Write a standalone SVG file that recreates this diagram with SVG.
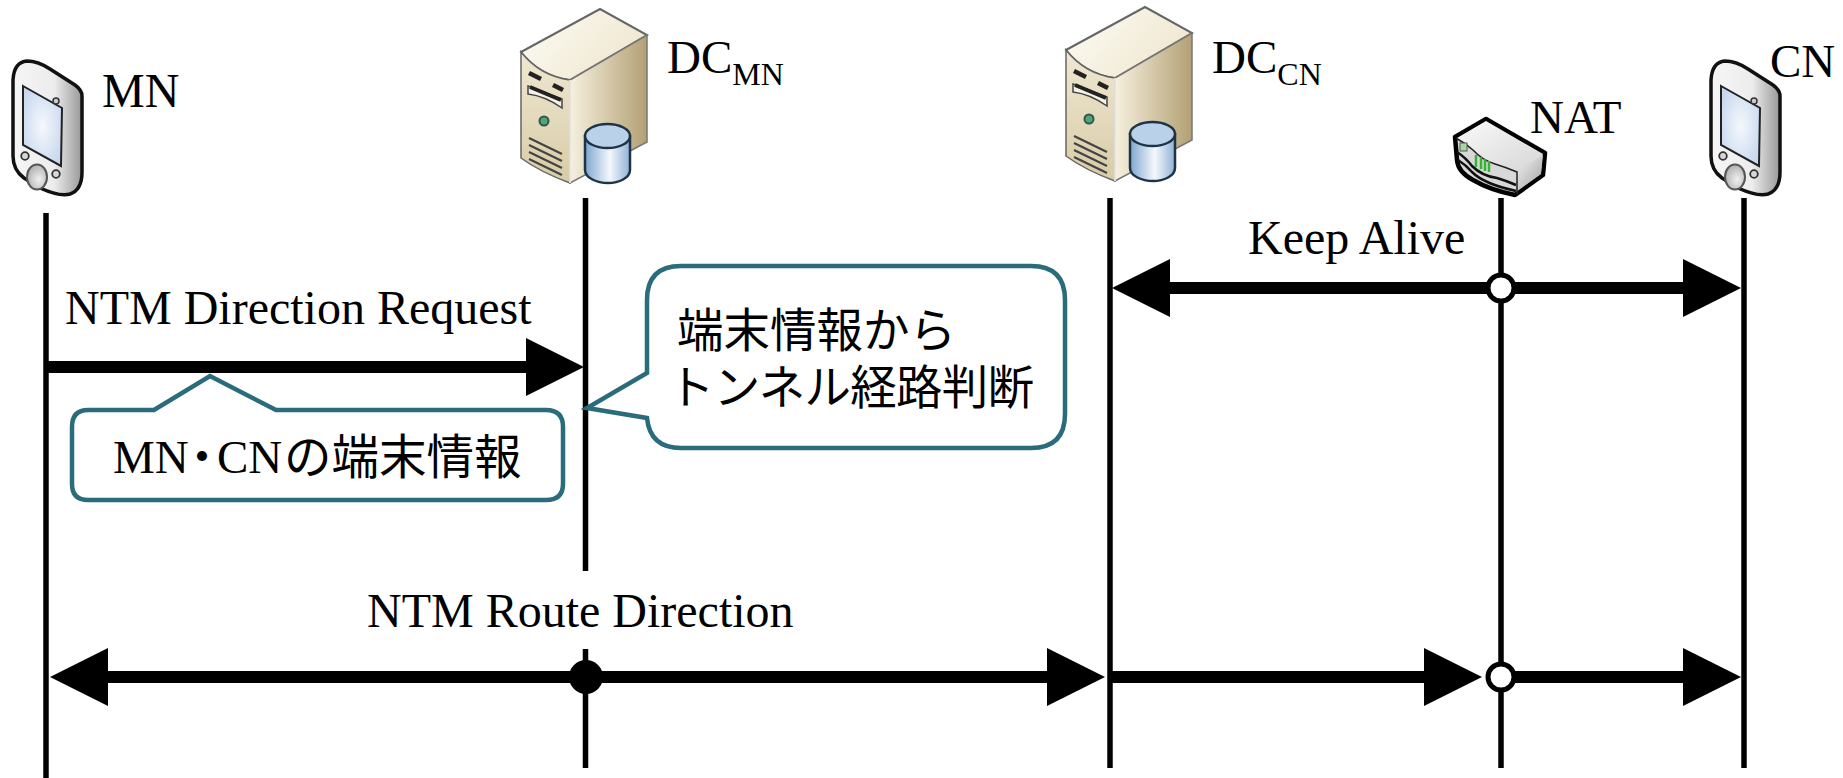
<svg xmlns="http://www.w3.org/2000/svg" width="1843" height="778" viewBox="0 0 1843 778">
<style>
text{font-family:"Liberation Serif","Noto Sans CJK JP",serif;fill:#000}
.t{font-size:47px}
.l{font-size:48px}
.s{font-size:32px}
.j{font-family:"Noto Sans CJK JP","Liberation Sans",sans-serif;font-size:46.500px}
.life{stroke:#000;stroke-width:5.500;fill:none}
.msg{stroke:#000;stroke-width:12;fill:none}
.call{fill:#fff;stroke:#2a6b7c;stroke-width:4.500;stroke-linejoin:miter}
.ow{fill:#fff;stroke:#000;stroke-width:5}
</style>
<defs>
<marker id="ah" markerUnits="userSpaceOnUse" markerWidth="60" markerHeight="60" viewBox="0 0 60 60" refX="30" refY="30" orient="auto-start-reverse"><path d="M1 1L59 30L1 59Z" fill="#000"/></marker>
<linearGradient id="pb" x1="0" x2="1" y1="0" y2="0"><stop offset="0" stop-color="#f6f6f6"/><stop offset=".6" stop-color="#ececec"/><stop offset="1" stop-color="#989898"/></linearGradient>
<radialGradient id="ps" cx=".5" cy=".5" r=".6"><stop offset="0" stop-color="#f5f8fc"/><stop offset="1" stop-color="#c6d7ee"/></radialGradient>
<radialGradient id="pk" cx=".6" cy=".6" r=".7"><stop offset="0" stop-color="#f0f0f0"/><stop offset="1" stop-color="#a8a8a8"/></radialGradient>
<linearGradient id="st" x1="0" x2="1" y1="0" y2=".5"><stop offset="0" stop-color="#fdfcf6"/><stop offset="1" stop-color="#efe7d0"/></linearGradient>
<linearGradient id="sl" x1="0" x2="0" y1="0" y2="1"><stop offset="0" stop-color="#efe8d2"/><stop offset="1" stop-color="#d8cba6"/></linearGradient>
<linearGradient id="sr" x1="0" x2="1" y1="0" y2="0"><stop offset="0" stop-color="#f6f0de"/><stop offset="1" stop-color="#b3a074"/></linearGradient>
<linearGradient id="cy" x1="0" x2="1" y1="0" y2="0"><stop offset="0" stop-color="#7fa6cf"/><stop offset=".55" stop-color="#f4f8fc"/><stop offset="1" stop-color="#8fb2d6"/></linearGradient>
<linearGradient id="nr" x1="0" x2="1" y1="0" y2="1"><stop offset="0" stop-color="#f6f6f6"/><stop offset="1" stop-color="#a0a0a0"/></linearGradient>
<linearGradient id="nt" x1="0" x2="1" y1="0" y2="1"><stop offset="0" stop-color="#fafafa"/><stop offset="1" stop-color="#d6d6d6"/></linearGradient>
<g id="phone">
<path d="M13 80Q14 62 27 61Q38 61 50 69L75 85Q82 90 82 96V172Q82 190 70 194Q60 197 40 188L24 178Q13 170 13 156Z" fill="url(#pb)" stroke="#111" stroke-width="3.500"/>
<path d="M23 86L62 108L61 166L23 145Z" fill="url(#ps)" stroke="#222" stroke-width="2"/>
<circle cx="56" cy="101" r="3" fill="#ccc" stroke="#333" stroke-width="1.500"/>
<circle cx="25" cy="156" r="3.800" fill="#d8d8d8" stroke="#333" stroke-width="1.800"/>
<circle cx="56" cy="174" r="3.800" fill="#d8d8d8" stroke="#333" stroke-width="1.800"/>
<ellipse cx="37" cy="177" rx="10" ry="12.500" fill="url(#pk)" stroke="#555" stroke-width="2"/>
</g>
<g id="server">
<path d="M521 52L600 9L647 35L570 80Q540 76 521 52Z" fill="url(#st)" stroke="#666" stroke-width="2"/>
<path d="M521 52Q540 76 570 80V183Q540 172 521 158Z" fill="url(#sl)" stroke="#666" stroke-width="1.500"/>
<path d="M570 80L647 35V142L570 183Z" fill="url(#sr)" stroke="#777" stroke-width="1.500"/>
<path d="M570 80V183" stroke="#fff" stroke-width="1.500"/>
<path d="M529 73L541 79M553 85L563 90" stroke="#222" stroke-width="4.500" fill="none"/>
<path d="M528 86L562 99V108Q545 96 528 94Z" fill="#f4f1e6" stroke="#444" stroke-width="1.500"/>
<path d="M530 87L561 100" stroke="#222" stroke-width="4" fill="none"/>
<circle cx="544" cy="121" r="4.500" fill="#4fa57c" stroke="#35554a" stroke-width="2"/>
<path d="M529 138L562 154M529 145L562 161M529 152L562 168M529 159L562 175" stroke="#444" stroke-width="2.200" fill="none"/>
<path d="M585 136V170C585 178 597 183 608 183C619 183 630 178 630 170V136Z" fill="url(#cy)" stroke="#1f3346" stroke-width="2.500"/>
<ellipse cx="607.500" cy="136" rx="22.500" ry="12" fill="#b9d2ea" stroke="#1f3346" stroke-width="2.500"/>
</g>
</defs>

<g id="connectors">
<path class="life" d="M46 213V778"/>
<path class="life" d="M585.500 198V571M585.500 649V768"/>
<path class="life" d="M1110 198V768"/>
<path class="life" d="M1501 198V768"/>
<path class="life" d="M1744 198V768"/>
<path class="msg" d="M46 367H555" marker-end="url(#ah)"/>
<path class="msg" d="M1141 288H1712" marker-start="url(#ah)" marker-end="url(#ah)"/>
<path class="msg" d="M79 677H1076" marker-start="url(#ah)" marker-end="url(#ah)"/>
<path class="msg" d="M1110 677H1453" marker-end="url(#ah)"/>
<path class="msg" d="M1501 677H1712" marker-end="url(#ah)"/>
<circle class="ow" cx="1501" cy="288" r="13"/>
<circle class="ow" cx="1501" cy="677" r="13"/>
<circle cx="586" cy="677" r="17" fill="#000"/>
</g>

<g id="node-mn"><use href="#phone"/><text class="t" x="102" y="107" style="font-size:48px">MN</text></g>
<g id="node-dcmn"><use href="#server"/><text class="t" x="667" y="73">DC<tspan class="s" dy="12">MN</tspan></text></g>
<g id="node-dccn"><use href="#server" x="545" y="-2"/><text class="t" x="1212" y="73">DC<tspan class="s" dy="12">CN</tspan></text></g>
<g id="node-nat">
<path d="M1455 137L1486 119L1545 153L1543 175L1515 195Q1490 190 1473 180Q1458 172 1457 160Z" fill="#d8d8d8" stroke="#000" stroke-width="4.500" stroke-linejoin="round"/>
<path d="M1457 138L1486 121L1543 154L1517 171Q1505 167 1495 164Q1482 160 1473 150Q1465 143 1457 138Z" fill="url(#nt)"/>
<path d="M1517 172L1543 155L1541 174L1516 192Z" fill="url(#nr)"/>
<path d="M1456 138Q1465 143 1473 150Q1482 160 1495 164Q1505 167 1517 172V194" fill="none" stroke="#222" stroke-width="1.500"/>
<path d="M1457 152Q1466 158 1472 166Q1482 176 1497 178Q1507 181 1516 185M1458 160Q1466 165 1472 172Q1484 184 1516 191" fill="none" stroke="#111" stroke-width="2.500"/>
<rect x="1460" y="143" width="7" height="8" fill="#a8d8a8" stroke="#555"/>
<path d="M1476 155V167M1481 157V169M1485 159V171M1489 161V172" stroke="#2fb52f" stroke-width="2.500"/>
<text class="t" x="1530" y="133">NAT</text>
</g>
<g id="node-cn"><use href="#phone" x="1698"/><text class="t" x="1770" y="77">CN</text></g>

<g id="labels">
<text class="l" x="65" y="324">NTM Direction Request</text>
<text class="l" x="1248" y="254">Keep Alive</text>
<text class="l" x="367" y="627">NTM Route Direction</text>
</g>

<g id="callout-left">
<path class="call" d="M88 410H154L210 376L276 410H546Q563 410 563 427V484Q563 500 546 500H88Q72 500 72 484V427Q72 410 88 410Z"/>
<text x="113" y="473" style="font-size:47px">MN<tspan x="217">CN</tspan></text>
<text class="j" x="178.500" y="474" style="font-size:47px">・</text>
<text class="j" x="284" y="474" style="font-size:47.500px">の端末情報</text>
</g>
<g id="callout-right">
<path class="call" d="M681 266H1031Q1065 266 1065 300V414Q1065 448 1031 448H681Q650 448 647 418L587 408L647 373V300Q647 266 681 266Z"/>
<text class="j" x="677" y="347">端末情報から</text>
<text class="j" x="668" y="404" textLength="366">トンネル経路判断</text>
</g>
</svg>
